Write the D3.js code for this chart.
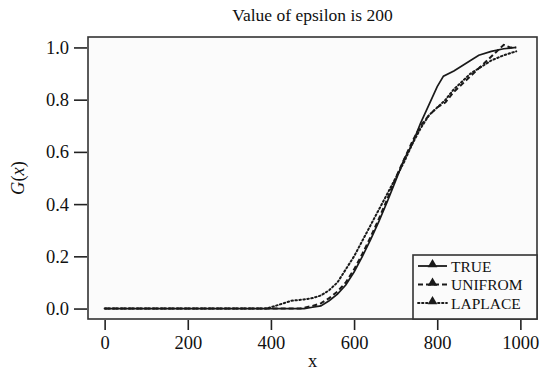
<!DOCTYPE html>
<html>
<head>
<meta charset="utf-8">
<script src="https://cdn.jsdelivr.net/npm/d3@7"></script>
<style>
body { margin: 0; background: #fff; }
svg text { font-family: "Liberation Serif", "DejaVu Serif", serif; fill: #111; }
</style>
</head>
<body>
<div id="chart"></div>
<script>
// Values
const xTicks = [0, 200, 400, 600, 800, 1000];
const yTicks = [0, 0.2, 0.4, 0.6, 0.8, 1.0];

const trueX = [0, 480, 500, 520, 540, 560, 580, 600, 620, 640, 660, 680, 700, 720, 740, 760, 780, 800, 815, 840, 860, 880, 900, 930, 960, 990];
const trueY = [0, 0, 0.005, 0.01, 0.03, 0.055, 0.09, 0.14, 0.2, 0.265, 0.335, 0.41, 0.49, 0.57, 0.63, 0.71, 0.78, 0.85, 0.89, 0.91, 0.93, 0.95, 0.97, 0.985, 0.995, 1.0];

const uniX = [0, 470, 500, 520, 540, 560, 580, 600, 620, 640, 660, 680, 700, 720, 740, 760, 780, 800, 820, 840, 860, 880, 900, 920, 940, 960, 975, 990];
const uniY = [0, 0, 0.01, 0.02, 0.04, 0.065, 0.1, 0.15, 0.21, 0.275, 0.345, 0.42, 0.5, 0.57, 0.64, 0.7, 0.74, 0.77, 0.79, 0.83, 0.86, 0.89, 0.92, 0.95, 0.98, 1.01, 1.0, 1.0];

const lapX = [0, 390, 410, 430, 450, 480, 500, 520, 540, 560, 580, 600, 620, 640, 660, 680, 700, 720, 740, 760, 780, 800, 820, 840, 860, 880, 900, 930, 960, 990];
const lapY = [0, 0, 0.01, 0.02, 0.03, 0.035, 0.04, 0.05, 0.07, 0.1, 0.15, 0.2, 0.26, 0.32, 0.38, 0.44, 0.5, 0.56, 0.63, 0.69, 0.74, 0.77, 0.8, 0.84, 0.87, 0.9, 0.92, 0.95, 0.97, 0.985];

const seriesNames = ["TRUE", "UNIFROM", "LAPLACE"];
const dashes = [null, "5,3", "1.5,2.5"];

const width = 542, height = 373;
const margin = {top: 37, right: 5, bottom: 54, left: 88};
const w = width - margin.left - margin.right;
const h = height - margin.top - margin.bottom;

const svg = d3.select("#chart").append("svg")
	.attr("width", width)
	.attr("height", height);

const g = svg.append("g")
	.attr("transform", "translate(" + margin.left + "," + margin.top + ")");

const x = d3.scaleLinear().domain([-40, 1040]).range([0, w]);
const y = d3.scaleLinear().domain([-0.04, 1.04]).range([h, 0]);

// plot background
g.append("rect")
	.attr("width", w).attr("height", h)
	.attr("fill", "#fbfbfb");

// axes
const xAxis = g.append("g")
	.attr("transform", "translate(0," + (h + 1) + ")")
	.call(d3.axisBottom(x).tickValues(xTicks).tickSize(10).tickPadding(6).tickFormat(d3.format("d")));
const yAxis = g.append("g")
	.attr("transform", "translate(-1,0)")
	.call(d3.axisLeft(y).tickValues(yTicks).tickSize(13).tickPadding(5).tickFormat(d3.format(".1f")));

[xAxis, yAxis].forEach(function(a) {
	a.select(".domain").remove();
	a.selectAll("line").attr("stroke", "#222").attr("stroke-width", 1.6);
	a.selectAll("text").style("font-size", "18.5px").attr("fill", "#111");
});

// lines
const line = d3.line()
	.x(function(d) {return x(d[0])})
	.y(function(d) {return y(d[1])});

const allSeries = [
	d3.zip(trueX, trueY),
	d3.zip(uniX, uniY),
	d3.zip(lapX, lapY)
];

allSeries.forEach(function(s, i) {
	g.append("path")
		.datum(s)
		.attr("fill", "none")
		.attr("stroke", "#1a1a1a")
		.attr("stroke-width", i == 0 ? 1.7 : 2)
		.attr("stroke-linecap", i == 2 ? "round" : "butt")
		.attr("stroke-dasharray", dashes[i])
		.attr("d", line);
});

// box on top
g.append("rect")
	.attr("width", w).attr("height", h)
	.attr("fill", "none")
	.attr("stroke", "#333")
	.attr("stroke-width", 1.6);

// legend
const lx = 413 - margin.left, ly = 255 - margin.top;
const legend = g.append("g").attr("transform", "translate(" + lx + "," + ly + ")");
legend.append("rect")
	.attr("width", w - lx).attr("height", h - ly)
	.attr("fill", "#fbfbfb")
	.attr("stroke", "#333")
	.attr("stroke-width", 1.6);

seriesNames.forEach(function(name, i) {
	let yy = 11 + i * 18.5;
	legend.append("line")
		.attr("x1", 5).attr("x2", 34)
		.attr("y1", yy).attr("y2", yy)
		.attr("stroke", "#1a1a1a")
		.attr("stroke-width", 1.8)
		.attr("stroke-linecap", i == 2 ? "round" : "butt")
		.attr("stroke-dasharray", dashes[i]);
	legend.append("path")
		.attr("d", d3.symbol().type(d3.symbolTriangle).size(40)())
		.attr("transform", "translate(19.5," + (yy - 1.5) + ")")
		.attr("fill", "#1a1a1a");
	legend.append("text")
		.attr("x", 38).attr("y", yy + 5.5)
		.style("font-size", "15.5px")
		.text(name);
});

// title
svg.append("text")
	.attr("x", margin.left + w / 2).attr("y", 21)
	.style("text-anchor", "middle")
	.style("font-size", "17.5px")
	.text("Value of epsilon is 200");

// x label
svg.append("text")
	.attr("x", margin.left + w / 2).attr("y", 367)
	.style("text-anchor", "middle")
	.style("font-size", "18.5px")
	.text("x");

// y label
const ylab = svg.append("text")
	.attr("transform", "translate(24," + (margin.top + h / 2) + ")rotate(-90)")
	.style("text-anchor", "middle")
	.style("font-size", "18.5px");
ylab.append("tspan").style("font-style", "italic").text("G");
ylab.append("tspan").text("(");
ylab.append("tspan").style("font-style", "italic").text("x");
ylab.append("tspan").text(")");
</script>
</body>
</html>
